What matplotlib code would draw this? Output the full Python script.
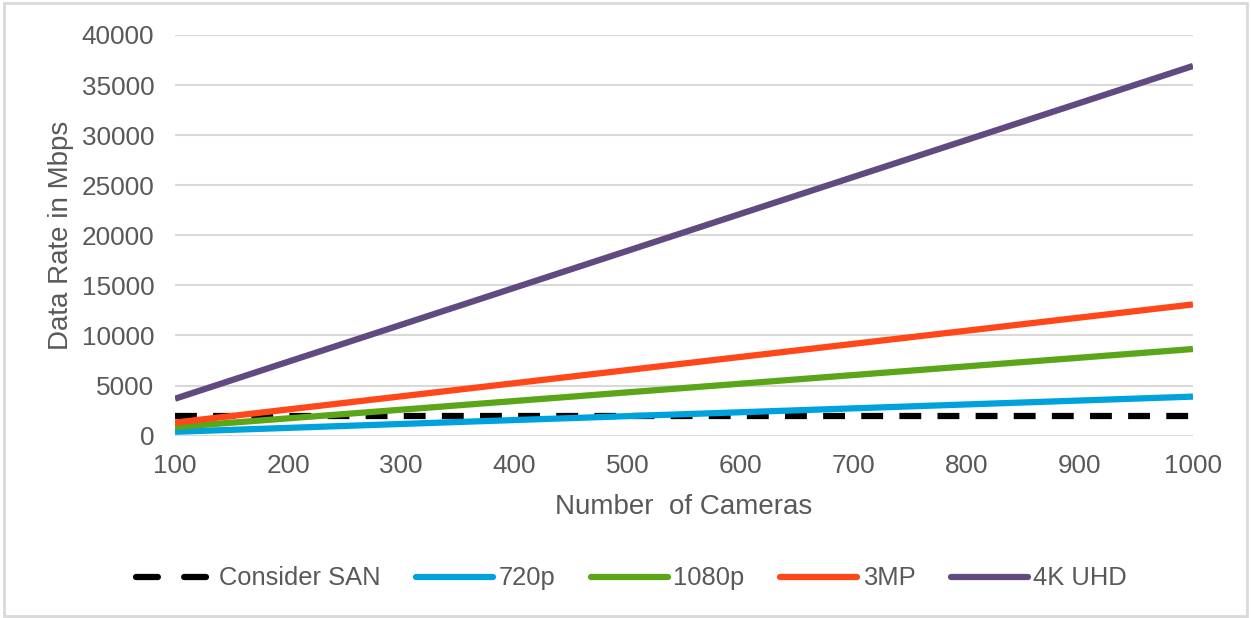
import matplotlib
matplotlib.use("Agg")
import matplotlib.pyplot as plt
from matplotlib.patches import Rectangle

plt.rcParams['font.family'] = ['Liberation Sans', 'DejaVu Sans']

cameras = [100, 200, 300, 400, 500, 600, 700, 800, 900, 1000]
consider_san = [2000] * 10
rate_720p = [390, 780, 1170, 1560, 1950, 2340, 2730, 3120, 3510, 3900]
rate_1080p = [865, 1730, 2595, 3460, 4325, 5190, 6055, 6920, 7785, 8650]
rate_3mp = [1310, 2620, 3930, 5240, 6550, 7860, 9170, 10480, 11790, 13100]
rate_4k = [3690, 7380, 11070, 14760, 18450, 22140, 25830, 29520, 33210, 36900]

series = [
    ("720p", rate_720p, "#00a2dc"),
    ("1080p", rate_1080p, "#5aa618"),
    ("3MP", rate_3mp, "#ff4719"),
    ("4K UHD", rate_4k, "#604a7f"),
]

text_col = "#595959"
tick_fs = 18.8
label_fs = 20
leg_fs = 18.4

fig = plt.figure(figsize=(12.51, 6.18), dpi=100)
ax = fig.add_axes([0.1399, 0.295, 0.8137, 0.6485])

ax.plot(cameras, consider_san, color="black", lw=4.5, dashes=(3.5, 2.6),
        dash_capstyle="butt", label="Consider SAN", zorder=3)
for name, vals, col in series:
    ax.plot(cameras, vals, color=col, lw=4.5, solid_capstyle="butt",
            label=name, zorder=3)

ax.set_xlim(100, 1000)
ax.set_ylim(0, 40000)
ax.set_xticks(range(100, 1001, 100))
ax.set_yticks(range(0, 40001, 5000))
ax.grid(axis="y", color="#d9d9d9", lw=1.5)
ax.set_axisbelow(True)
for s in ax.spines.values():
    s.set_visible(False)
ax.tick_params(length=0, labelsize=tick_fs, labelcolor=text_col)
ax.tick_params(axis="y", pad=15)
ax.tick_params(axis="x", pad=13)

ax.set_xlabel("Number  of Cameras", fontsize=label_fs, color=text_col, labelpad=12)
ax.set_ylabel("Data Rate in Mbps", fontsize=label_fs, color=text_col, labelpad=5)

leg = fig.legend(loc="center", bbox_to_anchor=(0.505, 0.064), ncol=5,
                 frameon=False, fontsize=leg_fs, handlelength=3.0,
                 handletextpad=0.22, columnspacing=1.4)
for t in leg.get_texts():
    t.set_color(text_col)
for h in leg.get_lines():
    h.set_solid_capstyle("round")
    h.set_dash_capstyle("round")
# two short dashes for the SAN key
leg.get_lines()[0].set_dashes((3.5, 4.2))

fig.patches.append(Rectangle((0.003, 0.003), 0.994, 0.992, transform=fig.transFigure,
                             fill=False, edgecolor="#d9d9d9", lw=2))

fig.savefig("out.png", dpi=100, facecolor="white")
